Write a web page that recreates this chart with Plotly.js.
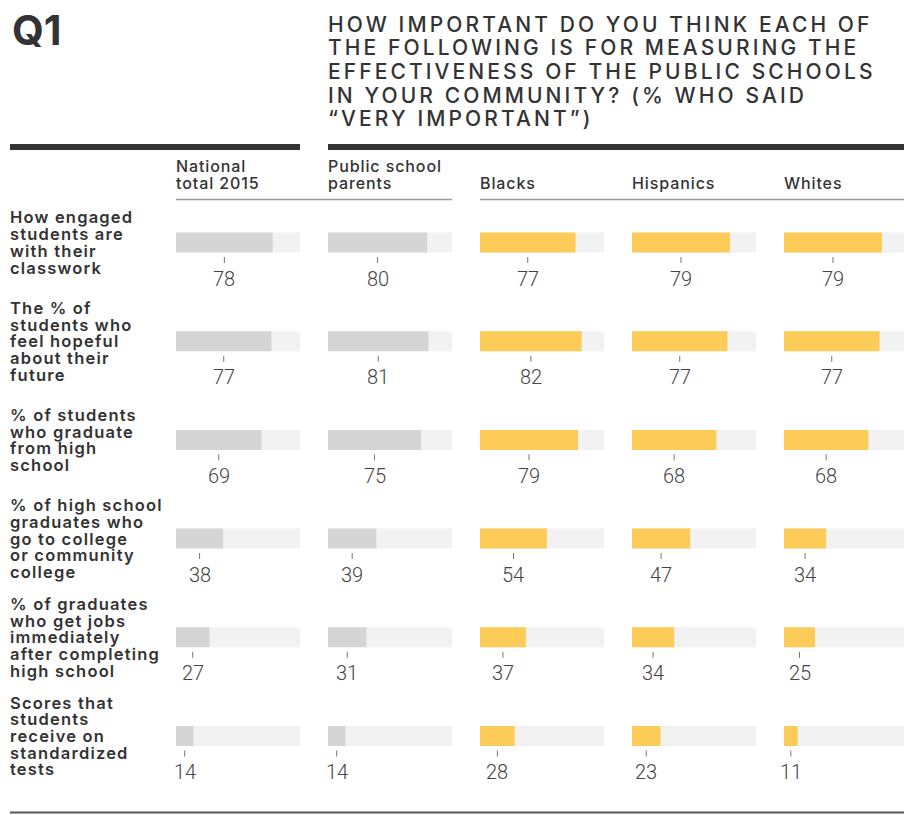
<!DOCTYPE html>
<html><head><meta charset="utf-8">
<script src="https://cdn.plot.ly/plotly-3.0.1.min.js"></script>
<style>html,body{margin:0;padding:0;background:#fff}</style>
</head><body><div id="chart" style="width:904px;height:815px"></div>
<script>
// ---- data ----
const rowLabels = [
  "How engaged<br>students are<br>with their<br>classwork",
  "The % of<br>students who<br>feel hopeful<br>about their<br>future",
  "% of students<br>who graduate<br>from high<br>school",
  "% of high school<br>graduates who<br>go to college<br>or community<br>college",
  "% of graduates<br>who get jobs<br>immediately<br>after completing<br>high school",
  "Scores that<br>students<br>receive on<br>standardized<br>tests"
];
const groups = ["National<br>total 2015", "Public school<br>parents", "Blacks", "Hispanics", "Whites"];
const national  = [78, 77, 69, 38, 27, 14];
const parents   = [80, 81, 75, 39, 31, 14];
const blacks    = [77, 82, 79, 54, 37, 28];
const hispanics = [79, 77, 68, 47, 34, 23];
const whites    = [79, 77, 68, 34, 25, 11];
const titleQ = "Q1";
const titleLines = [
  "HOW IMPORTANT DO YOU THINK EACH OF",
  "THE FOLLOWING IS FOR MEASURING THE",
  "EFFECTIVENESS OF THE PUBLIC SCHOOLS",
  "IN YOUR COMMUNITY? (% WHO SAID",
  "\u201CVERY IMPORTANT\u201D)"
];
const fullScale = 100;

// ---- layout / style ----
const W = 904, H = 815;
const series = [national, parents, blacks, hispanics, whites];
const barColors = ["#d5d5d5", "#d5d5d5", "#fdcb57", "#fdcb57", "#fdcb57"];
const trackColor = "#f2f2f2";
const textColor = "#333333";
const colStarts = [176, 328, 480, 632, 784];
const colW = 124;
const rowTop = 242.5, rowPitch = 98.7, barPx = 20;
const nRows = rowLabels.length;
const rows = rowLabels.map((_, i) => i);
const padX = 2; // annotation inner padding compensation

const yTopPx = rowTop - rowPitch / 2;
const yBotPx = rowTop + (nRows - 0.5) * rowPitch;
const yDomain = [1 - yBotPx / H, 1 - yTopPx / H];
const barWidth = barPx / rowPitch;

const traces = [];
const annotations = [];
const shapes = [];
const layout = {
  width: W, height: H,
  margin: {l: 0, r: 0, t: 0, b: 0, pad: 0},
  paper_bgcolor: "#fff", plot_bgcolor: "rgba(0,0,0,0)",
  showlegend: false, barmode: "overlay",
  yaxis: {domain: yDomain, range: [nRows - 0.5, -0.5], visible: false, fixedrange: true},
  hovermode: false
};

series.forEach((vals, c) => {
  const ax = c === 0 ? "" : String(c + 1);
  const x0 = colStarts[c], x1 = Math.min(colStarts[c] + colW, W);
  const rangeMax = fullScale * (x1 - x0) / colW;
  layout["xaxis" + ax] = {
    domain: [x0 / W, x1 / W], range: [0, rangeMax], visible: false,
    anchor: "y", fixedrange: true
  };
  traces.push({
    type: "bar", orientation: "h", xaxis: "x" + ax, yaxis: "y",
    y: rows, x: rows.map(() => fullScale), width: barWidth,
    marker: {color: trackColor, line: {width: 0}}, hoverinfo: "skip"
  });
  traces.push({
    type: "bar", orientation: "h", xaxis: "x" + ax, yaxis: "y",
    y: rows, x: vals, width: barWidth,
    marker: {color: barColors[c], line: {width: 0}}, hoverinfo: "skip"
  });
  vals.forEach((v, r) => {
    annotations.push({
      xref: "x" + ax, yref: "y", x: v / 2, y: r, yshift: -36,
      text: String(v), showarrow: false, xanchor: "center", yanchor: "middle",
      font: {family: "Roboto, 'Liberation Sans', sans-serif", size: 20, weight: 300, color: "#444"}
    });
    shapes.push({
      type: "line", xref: "x" + ax, yref: "y", ysizemode: "pixel", yanchor: r,
      x0: v / 2, x1: v / 2, y0: -14.5, y1: -20.5,
      line: {color: "#777", width: 1}
    });
  });
  // column header lines (bottom aligned)
  const hl = groups[c].split("<br>");
  hl.forEach((t, k) => {
    const fromBottom = hl.length - 1 - k;
    annotations.push({
      xref: "paper", yref: "paper", x: (colStarts[c] - padX) / W, y: 1 - (183 - fromBottom * 17) / H,
      xanchor: "left", yanchor: "middle", showarrow: false,
      text: '<span style="letter-spacing:0.9px">' + t + '</span>',
      font: {family: "Inter, sans-serif", size: 16, weight: 500, color: textColor}
    });
  });
});

// row labels
rowLabels.forEach((lab, r) => {
  const ls = lab.split("<br>");
  ls.forEach((t, k) => {
    annotations.push({
      xref: "paper", yref: "y", x: (10 - padX) / W, y: r,
      yshift: -(k - (ls.length - 1) / 2) * 16.7,
      xanchor: "left", yanchor: "middle", showarrow: false,
      text: '<span style="letter-spacing:1.2px">' + t + '</span>',
      font: {family: "Inter, sans-serif", size: 16.5, weight: 600, color: textColor}
    });
  });
});

// Q1
annotations.push({
  xref: "paper", yref: "paper", x: (12 - padX) / W, y: 1 - 30 / H, xanchor: "left", yanchor: "middle",
  showarrow: false, text: titleQ,
  font: {family: "Inter, sans-serif", size: 41, weight: 700, color: textColor}
});
// Title lines
titleLines.forEach((t, k) => {
  annotations.push({
    xref: "paper", yref: "paper", x: (328 - padX) / W, y: 1 - (24 + k * 23.7) / H,
    xanchor: "left", yanchor: "middle", showarrow: false,
    text: '<span style="letter-spacing:3.1px">' + t + '</span>',
    font: {family: "Inter, sans-serif", size: 21, weight: 500, color: textColor}
  });
});

// decorative rules
shapes.push({type: "line", xref: "paper", yref: "paper", x0: 10 / W, x1: 300 / W, y0: 1 - 147 / H, y1: 1 - 147 / H, line: {color: "#333", width: 6}});
shapes.push({type: "line", xref: "paper", yref: "paper", x0: 328 / W, x1: 1, y0: 1 - 147 / H, y1: 1 - 147 / H, line: {color: "#333", width: 6}});
shapes.push({type: "line", xref: "paper", yref: "paper", x0: 176 / W, x1: 452 / W, y0: 1 - 199.5 / H, y1: 1 - 199.5 / H, line: {color: "#999", width: 1.5}});
shapes.push({type: "line", xref: "paper", yref: "paper", x0: 480 / W, x1: 1, y0: 1 - 199.5 / H, y1: 1 - 199.5 / H, line: {color: "#999", width: 1.5}});
shapes.push({type: "line", xref: "paper", yref: "paper", x0: 10 / W, x1: 1, y0: 1 - 812.5 / H, y1: 1 - 812.5 / H, line: {color: "#555", width: 2}});

layout.annotations = annotations;
layout.shapes = shapes;

Plotly.newPlot("chart", traces, layout, {staticPlot: true, displayModeBar: false});
</script>
</body></html>
